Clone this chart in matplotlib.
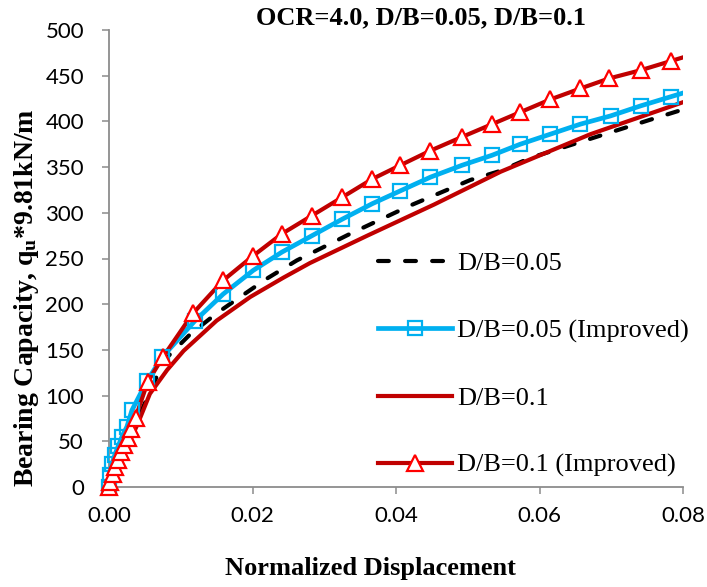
import matplotlib
matplotlib.use("Agg")
import matplotlib.pyplot as plt
from matplotlib.lines import Line2D
import numpy as np

# ---------------- data ----------------
title_text = "OCR=4.0, D/B=0.05, D/B=0.1"
x_label = "Normalized Displacement"
y_label = r"Bearing Capacity, q$_{\mathrm{u}}$*9.81kN/m"

x_ticks = [0.00, 0.02, 0.04, 0.06, 0.08]
y_ticks = [0, 50, 100, 150, 200, 250, 300, 350, 400, 450, 500]

labels = ["D/B=0.05", "D/B=0.05 (Improved)", "D/B=0.1", "D/B=0.1 (Improved)"]

# D/B=0.05 (black dashed)
db005_x = [0, 0.001, 0.002, 0.003, 0.004, 0.0055, 0.0076, 0.0113, 0.015, 0.0183,
           0.022, 0.0262, 0.0336, 0.042, 0.0504, 0.0546, 0.0587, 0.0675, 0.0759, 0.08]
db005_y = [0, 18, 38, 57, 75, 100, 138, 167, 190, 208,
           228, 248, 277, 308, 336, 346, 360, 382, 403, 413]

# D/B=0.05 (Improved) (cyan, squares)
db005i_x = [0, 0.0001, 0.0004, 0.0008, 0.0013, 0.0018, 0.0025, 0.0032, 0.0053, 0.0074,
            0.0120, 0.0159, 0.0201, 0.0241, 0.0283, 0.0325, 0.0367, 0.0406, 0.0448, 0.0492,
            0.0534, 0.0573, 0.0615, 0.0657, 0.0699, 0.0741, 0.0783, 0.0825]
db005i_y = [0, 13, 25, 35, 45, 55, 66, 84, 116, 142,
            182, 211, 237, 257, 275, 293, 310, 324, 339, 352,
            363, 375, 386, 397, 406, 417, 427, 437]

# D/B=0.1 (dark red)
db01_x = [0, 0.001, 0.002, 0.003, 0.004, 0.0057, 0.0081, 0.0104, 0.015, 0.0197,
          0.0243, 0.028, 0.036, 0.0453, 0.0546, 0.0671, 0.08]
db01_y = [0, 17, 35, 52, 69, 102, 128, 149, 182, 208,
          229, 245, 275, 309, 345, 386, 421]

# D/B=0.1 (Improved) (dark red, triangles)
db01i_x = [0, 0.0002, 0.0005, 0.0009, 0.0013, 0.0017, 0.0021, 0.0026, 0.0031, 0.0037,
           0.0054, 0.0075, 0.0117, 0.0159, 0.0201, 0.0241, 0.0283, 0.0325, 0.0367, 0.0406,
           0.0448, 0.0492, 0.0534, 0.0573, 0.0615, 0.0657, 0.0697, 0.0741, 0.0783, 0.0825]
db01i_y = [0, 6, 14, 22, 30, 38, 46, 54, 63, 76,
           115, 142, 190, 226, 253, 277, 297, 317, 337, 352,
           368, 383, 397, 410, 424, 436, 447, 456, 466, 476]

# ---------------- styling ----------------
plt.rcParams['mathtext.fontset'] = 'custom'
plt.rcParams['mathtext.rm'] = 'Liberation Serif:bold'
plt.rcParams['mathtext.it'] = 'Liberation Serif:bold'
plt.rcParams['mathtext.bf'] = 'Liberation Serif:bold'

W, H = 707, 587
fig = plt.figure(figsize=(W / 100, H / 100), dpi=100)
L, R, T, B = 109, 683, 30, 487
ax = fig.add_axes([L / W, 1 - B / H, (R - L) / W, (B - T) / H])

c_black = "#000000"
c_cyan = "#00B0F0"
c_dred = "#C00000"
c_red = "#FF0000"
lw = 3.0
dash = (2.6, 3.9)

ax.plot(db005_x, db005_y, color=c_black, lw=lw, linestyle=(0, dash),
        dash_capstyle='round', zorder=3)
ax.plot(db005i_x, db005i_y, color=c_cyan, lw=3.4, zorder=4,
        solid_capstyle='butt')
ax.plot(db01_x, db01_y, color=c_dred, lw=lw, zorder=5)
ax.plot(db01i_x, db01i_y, color=c_dred, lw=lw, zorder=6)

# markers (only within the axis range, unclipped like the original)
mx = np.array(db005i_x); my = np.array(db005i_y); m = mx <= 0.08
ax.plot(mx[m], my[m], linestyle='none', marker='s', ms=10, mfc='none',
        mec=c_cyan, mew=1.6, zorder=7, clip_on=False)
tx = np.array(db01i_x); ty = np.array(db01i_y); t = tx <= 0.08
ax.plot(tx[t], ty[t], linestyle='none', marker='^', ms=12, mfc='white',
        mec=c_red, mew=1.6, zorder=8, clip_on=False)

ax.set_xlim(0, 0.08)
ax.set_ylim(0, 500)
ax.set_xticks(x_ticks)
ax.set_xticklabels([f"{v:.2f}" for v in x_ticks])
ax.set_yticks(y_ticks)
ax.set_yticklabels([str(v) for v in y_ticks])

for s in ['top', 'right']:
    ax.spines[s].set_visible(False)
for s in ['left', 'bottom']:
    ax.spines[s].set_color('#8C8C8C')
    ax.spines[s].set_linewidth(1.3)
ax.tick_params(axis='both', direction='out', length=5, width=1.1, color='#8C8C8C')
ax.tick_params(axis='y', pad=13)
ax.tick_params(axis='x', pad=9)
for lab in ax.get_xticklabels() + ax.get_yticklabels():
    lab.set_fontfamily('Lato')
    lab.set_fontsize(16)
    lab.set_color('black')

# texts
fig.text(421 / W, 1 - 18 / H, title_text, ha='center', va='center',
         fontsize=19, fontweight='bold', family='Liberation Serif')
fig.text(370 / W, 1 - 569 / H, x_label, ha='center', va='center',
         fontsize=19, fontweight='bold', family='Liberation Serif')
fig.text(27 / W, 1 - 298 / H, y_label, ha='center', va='center', rotation=90,
         fontsize=20, fontweight='bold', family='Liberation Serif')

# legend
handles = [
    Line2D([], [], color=c_black, lw=lw, linestyle=(0, dash), dash_capstyle='round'),
    Line2D([], [], color=c_cyan, lw=3.4, marker='s', ms=10, mfc='none', mec=c_cyan, mew=1.6),
    Line2D([], [], color=c_dred, lw=lw),
    Line2D([], [], color=c_dred, lw=lw, marker='^', ms=12, mfc='white', mec=c_red, mew=1.6),
]
leg = fig.legend(handles, labels, loc='upper left',
                 bbox_to_anchor=(378 / W, 1 - 252 / H), frameon=False,
                 prop={'family': 'Liberation Serif', 'size': 19},
                 handlelength=2.8, handletextpad=0.2, labelspacing=1.65,
                 borderpad=0, borderaxespad=0)

fig.savefig("out.png", dpi=100)
